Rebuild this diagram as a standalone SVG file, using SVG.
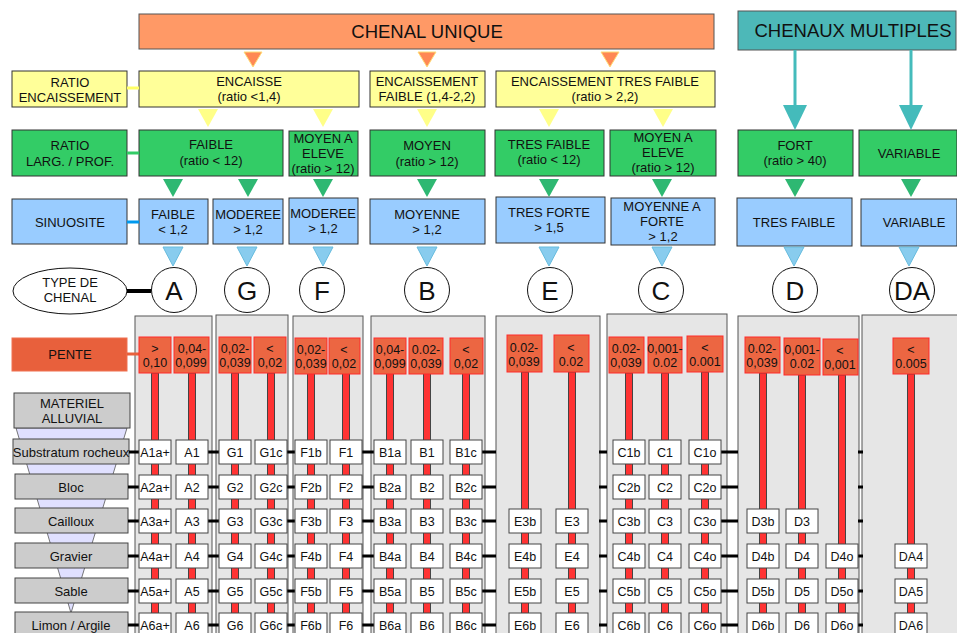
<svg xmlns="http://www.w3.org/2000/svg" width="957" height="633" viewBox="0 0 957 633">
<style>
text{font-family:"Liberation Sans",Arial,sans-serif;fill:#111;text-anchor:middle}
.t13{font-size:13px}
.t12{font-size:12.5px}
.big{font-size:18.5px}
.let{font-size:26px}
.ora{fill:#ff9966;stroke:#555;stroke-width:1}
.teal{fill:#4db8b8;stroke:#555;stroke-width:1}
.yel{fill:#ffff99;stroke:#333;stroke-width:1}
.grn{fill:#33cc66;stroke:#333;stroke-width:1}
.blu{fill:#99ccff;stroke:#333;stroke-width:1}
.pan{fill:#e6e6e6;stroke:#555;stroke-width:1}
.pb{fill:#ec6642;stroke:#ff2a2a;stroke-width:1}
.bar{fill:#ff3333;stroke:#444;stroke-width:1}
.rb{fill:#fff;stroke:#444;stroke-width:1}
.mat{fill:#cccccc;stroke:#444;stroke-width:1}
.cir{fill:#fff;stroke:#111;stroke-width:1}
.tk{stroke:#000;stroke-width:3}
.to{fill:#ff8855;stroke:#ffdd77;stroke-width:1}
.ty{fill:#ffff88}
.tg{fill:#2eb872}
.tb{fill:#88ccee;stroke:#66bbdd;stroke-width:1}
.tt{fill:#44bbbb}
</style>
<rect width="957" height="633" fill="#fff"/>

<!-- header nodes -->
<g id="chenal-unique"><rect class="ora" x="139" y="14" width="575" height="35"/><text class="big" x="427" y="38">CHENAL UNIQUE</text></g>
<g id="chenaux-multiples"><rect class="teal" x="738" y="11" width="218" height="39"/><text class="big" x="853" y="37">CHENAUX MULTIPLES</text></g>

<!-- row labels -->
<g id="ratio-encaissement"><rect class="yel" x="12" y="71" width="115" height="36"/><text class="t13" x="70" y="86.5">RATIO<tspan x="70" dy="15">ENCAISSEMENT</tspan></text></g>
<g id="ratio-larg"><rect class="grn" x="12" y="130" width="115" height="46"/><text class="t13" x="70" y="149.5">RATIO<tspan x="70" dy="16">LARG. / PROF.</tspan></text></g>
<g id="sinuosite"><rect class="blu" x="12" y="199" width="115" height="45"/><text class="t13" x="70" y="226.5">SINUOSITE</text></g>
<g id="type-chenal"><ellipse cx="70" cy="291" rx="57" ry="23" fill="#fff" stroke="#111"/><text class="t13" x="70" y="286.5">TYPE DE<tspan x="70" dy="15">CHENAL</tspan></text></g>
<g id="pente"><rect x="12" y="338" width="115" height="33" fill="#e8603c" stroke="#f07050"/><text class="t13" x="70" y="358.5">PENTE</text></g>

<!-- encaissement row -->
<g id="encaisse"><rect class="yel" x="139" y="71" width="220" height="36"/><text class="t13" x="249" y="85.5">ENCAISSE<tspan x="249" dy="15">(ratio &lt;1,4)</tspan></text></g>
<g id="enc-faible"><rect class="yel" x="370" y="71" width="115" height="36"/><text class="t13" x="427" y="85.5">ENCAISSEMENT<tspan x="427" dy="15">FAIBLE (1,4-2,2)</tspan></text></g>
<g id="enc-tres-faible"><rect class="yel" x="496" y="71" width="219" height="36"/><text class="t13" x="605" y="85.5">ENCAISSEMENT TRES FAIBLE<tspan x="605" dy="15">(ratio &gt; 2,2)</tspan></text></g>

<!-- largeur row -->
<g id="lp-faible"><rect class="grn" x="139" y="130" width="144" height="46"/><text class="t13" x="211" y="148.5">FAIBLE<tspan x="211" dy="16">(ratio &lt; 12)</tspan></text></g>
<g id="lp-moyen-eleve-1"><rect class="grn" x="289" y="131" width="69" height="45"/><text class="t13" x="323" y="142.5">MOYEN A<tspan x="323" dy="15">ELEVE</tspan><tspan x="323" dy="15">(ratio &gt; 12)</tspan></text></g>
<g id="lp-moyen"><rect class="grn" x="370" y="130" width="115" height="46"/><text class="t13" x="427" y="149.5">MOYEN<tspan x="427" dy="16">(ratio &gt; 12)</tspan></text></g>
<g id="lp-tres-faible"><rect class="grn" x="495" y="130" width="109" height="46"/><text class="t13" x="549" y="148.5">TRES FAIBLE<tspan x="549" dy="15">(ratio &lt; 12)</tspan></text></g>
<g id="lp-moyen-eleve-2"><rect class="grn" x="610" y="130" width="106" height="46"/><text class="t13" x="663" y="141.5">MOYEN A<tspan x="663" dy="15">ELEVE</tspan><tspan x="663" dy="15">(ratio &gt; 12)</tspan></text></g>
<g id="lp-fort"><rect class="grn" x="738" y="130" width="115" height="46"/><text class="t13" x="795" y="149.5">FORT<tspan x="795" dy="15">(ratio &gt; 40)</tspan></text></g>
<g id="lp-variable"><rect class="grn" x="859" y="130" width="98" height="46"/><text class="t13" x="909" y="157.5">VARIABLE</text></g>

<!-- sinuosite row -->
<g id="s-faible"><rect class="blu" x="139" y="199" width="69" height="45"/><text class="t13" x="173" y="218.5">FAIBLE<tspan x="173" dy="15">&lt; 1,2</tspan></text></g>
<g id="s-moderee-1"><rect class="blu" x="213" y="199" width="70" height="45"/><text class="t13" x="248" y="218.5">MODEREE<tspan x="248" dy="15">&gt; 1,2</tspan></text></g>
<g id="s-moderee-2"><rect class="blu" x="289" y="198" width="69" height="46"/><text class="t13" x="323" y="217.5">MODEREE<tspan x="323" dy="15">&gt; 1,2</tspan></text></g>
<g id="s-moyenne"><rect class="blu" x="370" y="199" width="115" height="45"/><text class="t13" x="427" y="218.5">MOYENNE<tspan x="427" dy="15">&gt; 1,2</tspan></text></g>
<g id="s-tres-forte"><rect class="blu" x="496" y="197" width="109" height="46"/><text class="t13" x="549" y="216.5">TRES FORTE<tspan x="549" dy="15">&gt; 1,5</tspan></text></g>
<g id="s-moyenne-forte"><rect class="blu" x="611" y="198" width="104" height="47"/><text class="t13" x="662" y="210.5">MOYENNE A<tspan x="662" dy="15">FORTE</tspan><tspan x="663" dy="15">&gt; 1,2</tspan></text></g>
<g id="s-tres-faible"><rect class="blu" x="737" y="198" width="115" height="48"/><text class="t13" x="794" y="226.5">TRES FAIBLE</text></g>
<g id="s-variable"><rect class="blu" x="861" y="199" width="96" height="47"/><text class="t13" x="914" y="226.5">VARIABLE</text></g>

<!-- type circles -->
<g id="type-A"><circle class="cir" cx="174" cy="290" r="22.5"/><text class="let" x="174" y="299.5">A</text></g>
<g id="type-G"><circle class="cir" cx="247" cy="290" r="22.5"/><text class="let" x="247" y="299.5">G</text></g>
<g id="type-F"><circle class="cir" cx="322" cy="290" r="22.5"/><text class="let" x="322" y="299.5">F</text></g>
<g id="type-B"><circle class="cir" cx="427" cy="290" r="22.5"/><text class="let" x="427" y="299.5">B</text></g>
<g id="type-E"><circle class="cir" cx="550" cy="290" r="22.5"/><text class="let" x="550" y="299.5">E</text></g>
<g id="type-C"><circle class="cir" cx="661" cy="290" r="22.5"/><text class="let" x="661" y="299.5">C</text></g>
<g id="type-D"><circle class="cir" cx="795" cy="290" r="22.5"/><text class="let" x="795" y="299.5">D</text></g>
<g id="type-DA"><circle class="cir" cx="912" cy="290" r="22.5"/><text class="let" x="912" y="299.5">DA</text></g>

<!-- panels -->
<g id="panels">
<rect class="pan" x="135" y="316" width="77" height="330"/>
<rect class="pan" x="216" y="315" width="72" height="330"/>
<rect class="pan" x="293" y="316" width="70" height="330"/>
<rect class="pan" x="371" y="316" width="114" height="330"/>
<rect class="pan" x="496" y="316" width="104" height="330"/>
<rect class="pan" x="607" y="314" width="120" height="330"/>
<rect class="pan" x="738" y="316" width="121" height="330"/>
<rect class="pan" x="862" y="315" width="100" height="330"/>
</g>

<!-- material alluvial -->
<g id="funnel"><polygon points="16,428 127,428 71,613" fill="#e0e0ff" stroke="#555" stroke-width="0.8"/></g>
<g id="mat-title"><rect class="mat" x="14" y="393" width="116" height="35"/><text class="t13" x="72" y="407.5">MATERIEL<tspan x="72" dy="15">ALLUVIAL</tspan></text></g>
<g id="mat-1"><rect class="mat" x="13" y="439" width="116" height="25"/><text class="t13" x="71" y="456.5">Substratum rocheux</text></g>
<g id="mat-2"><rect class="mat" x="15" y="474" width="113" height="25"/><text class="t13" x="71" y="491.5">Bloc</text></g>
<g id="mat-3"><rect class="mat" x="15" y="508" width="113" height="25"/><text class="t13" x="71" y="525.5">Cailloux</text></g>
<g id="mat-4"><rect class="mat" x="15" y="543" width="113" height="25"/><text class="t13" x="71" y="560.5">Gravier</text></g>
<g id="mat-5"><rect class="mat" x="15" y="578" width="113" height="25"/><text class="t13" x="71" y="595.5">Sable</text></g>
<g id="mat-6"><rect class="mat" x="15" y="612" width="113" height="25"/><text class="t13" x="71" y="629.5">Limon / Argile</text></g>

<!-- connectors -->
<g id="connectors">
<line x1="127" y1="88" x2="139" y2="88" stroke="#ffff66" stroke-width="3"/>
<line x1="127" y1="153" x2="139" y2="153" stroke="#33cc66" stroke-width="3"/>
<line x1="127" y1="222" x2="139" y2="222" stroke="#0099ee" stroke-width="3"/>
<line x1="127" y1="291" x2="151" y2="291" stroke="#000" stroke-width="4"/>
<line x1="127" y1="354" x2="139" y2="354" stroke="#e8603c" stroke-width="3"/>
<polygon class="to" points="244,52 262,52 253,67"/>
<polygon class="to" points="418,52 436,52 427,67"/>
<polygon class="to" points="601,52 619,52 610,67"/>
<line x1="795" y1="50" x2="795" y2="106" stroke="#44bbbb" stroke-width="3"/>
<line x1="911" y1="50" x2="911" y2="106" stroke="#44bbbb" stroke-width="3"/>
<polygon class="tt" points="783,105 807,105 795,130"/>
<polygon class="tt" points="899,105 923,105 911,130"/>
<polygon class="ty" points="198,109 218,109 208,127"/>
<polygon class="ty" points="313,109 333,109 323,127"/>
<polygon class="ty" points="417,109 437,109 427,127"/>
<polygon class="ty" points="539,109 559,109 549,127"/>
<polygon class="ty" points="653,109 673,109 663,127"/>
<polygon class="tg" points="163,179 183,179 173,197"/>
<polygon class="tg" points="238,179 258,179 248,197"/>
<polygon class="tg" points="313,179 333,179 323,197"/>
<polygon class="tg" points="417,179 437,179 427,197"/>
<polygon class="tg" points="539,179 559,179 549,197"/>
<polygon class="tg" points="652,179 672,179 662,197"/>
<polygon class="tg" points="785,179 805,179 795,197"/>
<polygon class="tg" points="901,179 921,179 911,197"/>
<polygon class="tb" points="163,247 183,247 173,266"/>
<polygon class="tb" points="237,247 257,247 247,266"/>
<polygon class="tb" points="313,247 333,247 323,266"/>
<polygon class="tb" points="417,247 437,247 427,266"/>
<polygon class="tb" points="539,247 559,247 549,266"/>
<polygon class="tb" points="652,247 672,247 662,266"/>
<polygon class="tb" points="784,247 804,247 794,266"/>
<polygon class="tb" points="899,247 919,247 909,266"/>
<!-- red bars -->
<rect class="bar" x="151.5" y="373" width="7" height="270"/>
<rect class="bar" x="188.5" y="373" width="7" height="270"/>
<rect class="bar" x="231.5" y="373" width="7" height="270"/>
<rect class="bar" x="267.5" y="373" width="7" height="270"/>
<rect class="bar" x="307.5" y="373" width="7" height="270"/>
<rect class="bar" x="342.5" y="373" width="7" height="270"/>
<rect class="bar" x="386.5" y="373" width="7" height="270"/>
<rect class="bar" x="423.5" y="373" width="7" height="270"/>
<rect class="bar" x="462.5" y="373" width="7" height="270"/>
<rect class="bar" x="521.5" y="372" width="7" height="270"/>
<rect class="bar" x="568.5" y="372" width="7" height="270"/>
<rect class="bar" x="625.5" y="373" width="7" height="270"/>
<rect class="bar" x="661.5" y="373" width="7" height="270"/>
<rect class="bar" x="701.5" y="372" width="7" height="270"/>
<rect class="bar" x="759.5" y="373" width="7" height="270"/>
<rect class="bar" x="798.5" y="375" width="7" height="270"/>
<rect class="bar" x="838.5" y="375" width="7" height="270"/>
<rect class="bar" x="907.5" y="374" width="7" height="270"/>
<!-- ticks -->
<g class="tk">
<path d="M129 452H139M208 452H219M287 452H295M362 452H374M482 452H496M599 452H607M721 452H738M858 452H863"/>
<path d="M128 487H139M208 487H219M287 487H295M362 487H374M482 487H496M599 487H607M721 487H738M858 487H863"/>
<path d="M128 521H139M208 521H219M287 521H295M362 521H374M482 521H496M599 521H607M721 521H738M858 521H863"/>
<path d="M128 556H139M208 556H219M287 556H295M362 556H374M482 556H496M599 556H607M721 556H738M858 556H863"/>
<path d="M128 591H139M208 591H219M287 591H295M362 591H374M482 591H496M599 591H607M721 591H738M858 591H863"/>
<path d="M128 625H139M208 625H219M287 625H295M362 625H374M482 625H496M599 625H607M721 625H738M858 625H863"/>
</g>
</g>

<!-- pente boxes -->
<g id="p-A1"><rect class="pb" x="139" y="337" width="32" height="36"/><text class="t12" x="155" y="352.5">&gt;<tspan x="155" dy="14">0,10</tspan></text></g>
<g id="p-A2"><rect class="pb" x="174" y="337" width="35" height="36"/><text class="t12" x="192" y="352.5">0,04-<tspan x="191" dy="14">0,099</tspan></text></g>
<g id="p-G1"><rect class="pb" x="219" y="337" width="32" height="36"/><text class="t12" x="235" y="352.5">0,02-<tspan x="235" dy="14">0,039</tspan></text></g>
<g id="p-G2"><rect class="pb" x="254" y="337" width="32" height="36"/><text class="t12" x="270" y="352.5">&lt;<tspan x="270" dy="14">0,02</tspan></text></g>
<g id="p-F1"><rect class="pb" x="295" y="338" width="32" height="36"/><text class="t12" x="311" y="353.5">0,02-<tspan x="311" dy="14">0,039</tspan></text></g>
<g id="p-F2"><rect class="pb" x="329" y="338" width="31" height="36"/><text class="t12" x="344" y="353.5">&lt;<tspan x="344" dy="14">0,02</tspan></text></g>
<g id="p-B1"><rect class="pb" x="374" y="338" width="32" height="36"/><text class="t12" x="390" y="353.5">0,04-<tspan x="390" dy="14">0,099</tspan></text></g>
<g id="p-B2"><rect class="pb" x="409" y="338" width="34" height="36"/><text class="t12" x="426" y="353.5">0.02-<tspan x="426" dy="14">0,039</tspan></text></g>
<g id="p-B3"><rect class="pb" x="450" y="338" width="33" height="36"/><text class="t12" x="466" y="353.5">&lt;<tspan x="466" dy="14">0,02</tspan></text></g>
<g id="p-E1"><rect class="pb" x="507" y="335" width="35" height="37"/><text class="t12" x="524" y="351.5">0.02-<tspan x="524" dy="14">0,039</tspan></text></g>
<g id="p-E2"><rect class="pb" x="554" y="335" width="35" height="37"/><text class="t12" x="571" y="351.5">&lt;<tspan x="571" dy="14">0.02</tspan></text></g>
<g id="p-C1"><rect class="pb" x="609" y="337" width="35" height="36"/><text class="t12" x="626" y="352.5">0.02-<tspan x="626" dy="14">0,039</tspan></text></g>
<g id="p-C2"><rect class="pb" x="648" y="337" width="34" height="36"/><text class="t12" x="665" y="352.5">0,001-<tspan x="665" dy="14">0.02</tspan></text></g>
<g id="p-C3"><rect class="pb" x="687" y="336" width="36" height="36"/><text class="t12" x="705" y="351.5">&lt;<tspan x="705" dy="14">0.001</tspan></text></g>
<g id="p-D1"><rect class="pb" x="745" y="337" width="35" height="36"/><text class="t12" x="762" y="352.5">0.02-<tspan x="762" dy="14">0,039</tspan></text></g>
<g id="p-D2"><rect class="pb" x="784" y="338" width="36" height="37"/><text class="t12" x="802" y="354">0,001-<tspan x="802" dy="14">0.02</tspan></text></g>
<g id="p-D3"><rect class="pb" x="823" y="339" width="35" height="36"/><text class="t12" x="840" y="354.5">&lt;<tspan x="840" dy="14">0,001</tspan></text></g>
<g id="p-DA"><rect class="pb" x="893" y="338" width="36" height="36"/><text class="t12" x="911" y="353.5">&lt;<tspan x="911" dy="14">0.005</tspan></text></g>

<!-- row boxes: column A -->
<g id="b-A1ap"><rect class="rb" x="139" y="440" width="32" height="24"/><text class="t12" x="155" y="456.5">A1a+</text></g>
<g id="b-A2ap"><rect class="rb" x="139" y="475" width="32" height="24"/><text class="t12" x="155" y="491.5">A2a+</text></g>
<g id="b-A3ap"><rect class="rb" x="139" y="509" width="32" height="24"/><text class="t12" x="155" y="525.5">A3a+</text></g>
<g id="b-A4ap"><rect class="rb" x="139" y="544" width="32" height="24"/><text class="t12" x="155" y="560.5">A4a+</text></g>
<g id="b-A5ap"><rect class="rb" x="139" y="579" width="32" height="24"/><text class="t12" x="155" y="595.5">A5a+</text></g>
<g id="b-A6ap"><rect class="rb" x="139" y="613" width="32" height="24"/><text class="t12" x="155" y="629.5">A6a+</text></g>
<g id="b-A1"><rect class="rb" x="176" y="440" width="32" height="24"/><text class="t12" x="192" y="456.5">A1</text></g>
<g id="b-A2"><rect class="rb" x="176" y="475" width="32" height="24"/><text class="t12" x="192" y="491.5">A2</text></g>
<g id="b-A3"><rect class="rb" x="176" y="509" width="32" height="24"/><text class="t12" x="192" y="525.5">A3</text></g>
<g id="b-A4"><rect class="rb" x="176" y="544" width="32" height="24"/><text class="t12" x="192" y="560.5">A4</text></g>
<g id="b-A5"><rect class="rb" x="176" y="579" width="32" height="24"/><text class="t12" x="192" y="595.5">A5</text></g>
<g id="b-A6"><rect class="rb" x="176" y="613" width="32" height="24"/><text class="t12" x="192" y="629.5">A6</text></g>
<!-- G -->
<g id="b-G1"><rect class="rb" x="219" y="440" width="32" height="24"/><text class="t12" x="235" y="456.5">G1</text></g>
<g id="b-G2"><rect class="rb" x="219" y="475" width="32" height="24"/><text class="t12" x="235" y="491.5">G2</text></g>
<g id="b-G3"><rect class="rb" x="219" y="509" width="32" height="24"/><text class="t12" x="235" y="525.5">G3</text></g>
<g id="b-G4"><rect class="rb" x="219" y="544" width="32" height="24"/><text class="t12" x="235" y="560.5">G4</text></g>
<g id="b-G5"><rect class="rb" x="219" y="579" width="32" height="24"/><text class="t12" x="235" y="595.5">G5</text></g>
<g id="b-G6"><rect class="rb" x="219" y="613" width="32" height="24"/><text class="t12" x="235" y="629.5">G6</text></g>
<g id="b-G1c"><rect class="rb" x="255" y="440" width="32" height="24"/><text class="t12" x="271" y="456.5">G1c</text></g>
<g id="b-G2c"><rect class="rb" x="255" y="475" width="32" height="24"/><text class="t12" x="271" y="491.5">G2c</text></g>
<g id="b-G3c"><rect class="rb" x="255" y="509" width="32" height="24"/><text class="t12" x="271" y="525.5">G3c</text></g>
<g id="b-G4c"><rect class="rb" x="255" y="544" width="32" height="24"/><text class="t12" x="271" y="560.5">G4c</text></g>
<g id="b-G5c"><rect class="rb" x="255" y="579" width="32" height="24"/><text class="t12" x="271" y="595.5">G5c</text></g>
<g id="b-G6c"><rect class="rb" x="255" y="613" width="32" height="24"/><text class="t12" x="271" y="629.5">G6c</text></g>
<!-- F -->
<g id="b-F1b"><rect class="rb" x="295" y="440" width="32" height="24"/><text class="t12" x="311" y="456.5">F1b</text></g>
<g id="b-F2b"><rect class="rb" x="295" y="475" width="32" height="24"/><text class="t12" x="311" y="491.5">F2b</text></g>
<g id="b-F3b"><rect class="rb" x="295" y="509" width="32" height="24"/><text class="t12" x="311" y="525.5">F3b</text></g>
<g id="b-F4b"><rect class="rb" x="295" y="544" width="32" height="24"/><text class="t12" x="311" y="560.5">F4b</text></g>
<g id="b-F5b"><rect class="rb" x="295" y="579" width="32" height="24"/><text class="t12" x="311" y="595.5">F5b</text></g>
<g id="b-F6b"><rect class="rb" x="295" y="613" width="32" height="24"/><text class="t12" x="311" y="629.5">F6b</text></g>
<g id="b-F1"><rect class="rb" x="330" y="440" width="32" height="24"/><text class="t12" x="346" y="456.5">F1</text></g>
<g id="b-F2"><rect class="rb" x="330" y="475" width="32" height="24"/><text class="t12" x="346" y="491.5">F2</text></g>
<g id="b-F3"><rect class="rb" x="330" y="509" width="32" height="24"/><text class="t12" x="346" y="525.5">F3</text></g>
<g id="b-F4"><rect class="rb" x="330" y="544" width="32" height="24"/><text class="t12" x="346" y="560.5">F4</text></g>
<g id="b-F5"><rect class="rb" x="330" y="579" width="32" height="24"/><text class="t12" x="346" y="595.5">F5</text></g>
<g id="b-F6"><rect class="rb" x="330" y="613" width="32" height="24"/><text class="t12" x="346" y="629.5">F6</text></g>
<!-- B -->
<g id="b-B1a"><rect class="rb" x="374" y="440" width="32" height="24"/><text class="t12" x="390" y="456.5">B1a</text></g>
<g id="b-B2a"><rect class="rb" x="374" y="475" width="32" height="24"/><text class="t12" x="390" y="491.5">B2a</text></g>
<g id="b-B3a"><rect class="rb" x="374" y="509" width="32" height="24"/><text class="t12" x="390" y="525.5">B3a</text></g>
<g id="b-B4a"><rect class="rb" x="374" y="544" width="32" height="24"/><text class="t12" x="390" y="560.5">B4a</text></g>
<g id="b-B5a"><rect class="rb" x="374" y="579" width="32" height="24"/><text class="t12" x="390" y="595.5">B5a</text></g>
<g id="b-B6a"><rect class="rb" x="374" y="613" width="32" height="24"/><text class="t12" x="390" y="629.5">B6a</text></g>
<g id="b-B1"><rect class="rb" x="411" y="440" width="32" height="24"/><text class="t12" x="427" y="456.5">B1</text></g>
<g id="b-B2"><rect class="rb" x="411" y="475" width="32" height="24"/><text class="t12" x="427" y="491.5">B2</text></g>
<g id="b-B3"><rect class="rb" x="411" y="509" width="32" height="24"/><text class="t12" x="427" y="525.5">B3</text></g>
<g id="b-B4"><rect class="rb" x="411" y="544" width="32" height="24"/><text class="t12" x="427" y="560.5">B4</text></g>
<g id="b-B5"><rect class="rb" x="411" y="579" width="32" height="24"/><text class="t12" x="427" y="595.5">B5</text></g>
<g id="b-B6"><rect class="rb" x="411" y="613" width="32" height="24"/><text class="t12" x="427" y="629.5">B6</text></g>
<g id="b-B1c"><rect class="rb" x="450" y="440" width="32" height="24"/><text class="t12" x="466" y="456.5">B1c</text></g>
<g id="b-B2c"><rect class="rb" x="450" y="475" width="32" height="24"/><text class="t12" x="466" y="491.5">B2c</text></g>
<g id="b-B3c"><rect class="rb" x="450" y="509" width="32" height="24"/><text class="t12" x="466" y="525.5">B3c</text></g>
<g id="b-B4c"><rect class="rb" x="450" y="544" width="32" height="24"/><text class="t12" x="466" y="560.5">B4c</text></g>
<g id="b-B5c"><rect class="rb" x="450" y="579" width="32" height="24"/><text class="t12" x="466" y="595.5">B5c</text></g>
<g id="b-B6c"><rect class="rb" x="450" y="613" width="32" height="24"/><text class="t12" x="466" y="629.5">B6c</text></g>
<!-- E -->
<g id="b-E3b"><rect class="rb" x="509" y="509" width="32" height="24"/><text class="t12" x="525" y="525.5">E3b</text></g>
<g id="b-E4b"><rect class="rb" x="509" y="544" width="32" height="24"/><text class="t12" x="525" y="560.5">E4b</text></g>
<g id="b-E5b"><rect class="rb" x="509" y="579" width="32" height="24"/><text class="t12" x="525" y="595.5">E5b</text></g>
<g id="b-E6b"><rect class="rb" x="509" y="613" width="32" height="24"/><text class="t12" x="525" y="629.5">E6b</text></g>
<g id="b-E3"><rect class="rb" x="556" y="509" width="32" height="24"/><text class="t12" x="572" y="525.5">E3</text></g>
<g id="b-E4"><rect class="rb" x="556" y="544" width="32" height="24"/><text class="t12" x="572" y="560.5">E4</text></g>
<g id="b-E5"><rect class="rb" x="556" y="579" width="32" height="24"/><text class="t12" x="572" y="595.5">E5</text></g>
<g id="b-E6"><rect class="rb" x="556" y="613" width="32" height="24"/><text class="t12" x="572" y="629.5">E6</text></g>
<!-- C -->
<g id="b-C1b"><rect class="rb" x="613" y="440" width="32" height="24"/><text class="t12" x="629" y="456.5">C1b</text></g>
<g id="b-C2b"><rect class="rb" x="613" y="475" width="32" height="24"/><text class="t12" x="629" y="491.5">C2b</text></g>
<g id="b-C3b"><rect class="rb" x="613" y="509" width="32" height="24"/><text class="t12" x="629" y="525.5">C3b</text></g>
<g id="b-C4b"><rect class="rb" x="613" y="544" width="32" height="24"/><text class="t12" x="629" y="560.5">C4b</text></g>
<g id="b-C5b"><rect class="rb" x="613" y="579" width="32" height="24"/><text class="t12" x="629" y="595.5">C5b</text></g>
<g id="b-C6b"><rect class="rb" x="613" y="613" width="32" height="24"/><text class="t12" x="629" y="629.5">C6b</text></g>
<g id="b-C1"><rect class="rb" x="649" y="440" width="32" height="24"/><text class="t12" x="665" y="456.5">C1</text></g>
<g id="b-C2"><rect class="rb" x="649" y="475" width="32" height="24"/><text class="t12" x="665" y="491.5">C2</text></g>
<g id="b-C3"><rect class="rb" x="649" y="509" width="32" height="24"/><text class="t12" x="665" y="525.5">C3</text></g>
<g id="b-C4"><rect class="rb" x="649" y="544" width="32" height="24"/><text class="t12" x="665" y="560.5">C4</text></g>
<g id="b-C5"><rect class="rb" x="649" y="579" width="32" height="24"/><text class="t12" x="665" y="595.5">C5</text></g>
<g id="b-C6"><rect class="rb" x="649" y="613" width="32" height="24"/><text class="t12" x="665" y="629.5">C6</text></g>
<g id="b-C1o"><rect class="rb" x="689" y="440" width="32" height="24"/><text class="t12" x="705" y="456.5">C1o</text></g>
<g id="b-C2o"><rect class="rb" x="689" y="475" width="32" height="24"/><text class="t12" x="705" y="491.5">C2o</text></g>
<g id="b-C3o"><rect class="rb" x="689" y="509" width="32" height="24"/><text class="t12" x="705" y="525.5">C3o</text></g>
<g id="b-C4o"><rect class="rb" x="689" y="544" width="32" height="24"/><text class="t12" x="705" y="560.5">C4o</text></g>
<g id="b-C5o"><rect class="rb" x="689" y="579" width="32" height="24"/><text class="t12" x="705" y="595.5">C5o</text></g>
<g id="b-C6o"><rect class="rb" x="689" y="613" width="32" height="24"/><text class="t12" x="705" y="629.5">C6o</text></g>
<!-- D -->
<g id="b-D3b"><rect class="rb" x="747" y="509" width="32" height="24"/><text class="t12" x="763" y="525.5">D3b</text></g>
<g id="b-D4b"><rect class="rb" x="747" y="544" width="32" height="24"/><text class="t12" x="763" y="560.5">D4b</text></g>
<g id="b-D5b"><rect class="rb" x="747" y="579" width="32" height="24"/><text class="t12" x="763" y="595.5">D5b</text></g>
<g id="b-D6b"><rect class="rb" x="747" y="613" width="32" height="24"/><text class="t12" x="763" y="629.5">D6b</text></g>
<g id="b-D3"><rect class="rb" x="786" y="509" width="32" height="24"/><text class="t12" x="802" y="525.5">D3</text></g>
<g id="b-D4"><rect class="rb" x="786" y="544" width="32" height="24"/><text class="t12" x="802" y="560.5">D4</text></g>
<g id="b-D5"><rect class="rb" x="786" y="579" width="32" height="24"/><text class="t12" x="802" y="595.5">D5</text></g>
<g id="b-D6"><rect class="rb" x="786" y="613" width="32" height="24"/><text class="t12" x="802" y="629.5">D6</text></g>
<g id="b-D4o"><rect class="rb" x="826" y="544" width="32" height="24"/><text class="t12" x="842" y="560.5">D4o</text></g>
<g id="b-D5o"><rect class="rb" x="826" y="579" width="32" height="24"/><text class="t12" x="842" y="595.5">D5o</text></g>
<g id="b-D6o"><rect class="rb" x="826" y="613" width="32" height="24"/><text class="t12" x="842" y="629.5">D6o</text></g>
<!-- DA -->
<g id="b-DA4"><rect class="rb" x="895" y="544" width="32" height="24"/><text class="t12" x="911" y="560.5">DA4</text></g>
<g id="b-DA5"><rect class="rb" x="895" y="579" width="32" height="24"/><text class="t12" x="911" y="595.5">DA5</text></g>
<g id="b-DA6"><rect class="rb" x="895" y="613" width="32" height="24"/><text class="t12" x="911" y="629.5">DA6</text></g>
</svg>
